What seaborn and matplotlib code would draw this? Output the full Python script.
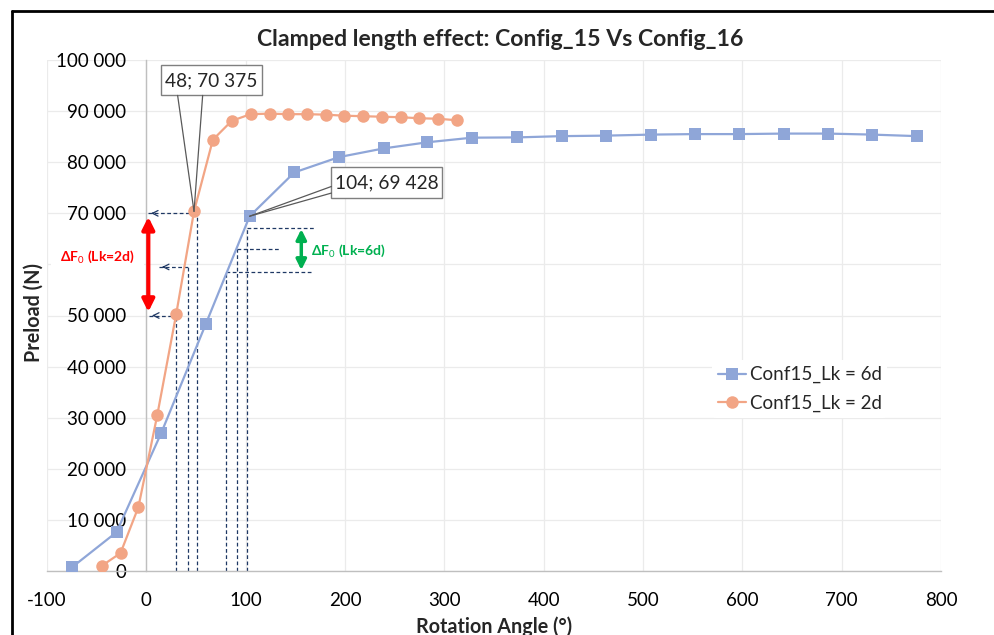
import numpy as np
import pandas as pd
import matplotlib
matplotlib.use("Agg")
import matplotlib.pyplot as plt
import seaborn as sns
from matplotlib.ticker import MultipleLocator, FuncFormatter
from matplotlib.lines import Line2D
from matplotlib.patches import Rectangle

# ---------------- data ----------------
series_6d = "Conf15_Lk = 6d"
series_2d = "Conf15_Lk = 2d"
angle_6d = [-75, -30, 15, 60, 104, 149, 194, 239, 283, 328, 373, 418, 463, 508,
            552, 597, 642, 686, 731, 776]
preload_6d = [700, 7600, 27000, 48400, 69428, 78000, 81000, 82700, 83900, 84800,
              84850, 85100, 85200, 85400, 85500, 85500, 85600, 85600, 85400, 85100]
angle_2d = [-45, -26, -8, 11, 30, 48, 67, 86, 105, 124, 143, 162, 181, 199, 218,
            237, 256, 275, 294, 313]
preload_2d = [1000, 3500, 12500, 30500, 50200, 70375, 84400, 88100, 89400, 89500,
              89400, 89400, 89300, 89100, 89000, 88900, 88800, 88600, 88500, 88200]

# labelled points
label_pt_2d = (48, 70375)
label_pt_6d = (104, 69428)

# guide lines (reading aids)
guide_2d_x = [30, 42, 51]
guide_2d_y = [50000, 59500, 70000]
guide_2d_tip = [3, 13, 2]
guide_6d_x = [80.6, 91.6, 101]
guide_6d_y = [58600, 63000, 67200]
guide_6d_end = [167, 133.5, 169.5]

x_ticks = list(range(-100, 801, 100))
y_ticks = list(range(0, 100001, 10000))

title = "Clamped length effect: Config_15 Vs Config_16"
xlabel = "Rotation Angle (°)"
ylabel = "Preload (N)"

# ---------------- style ----------------
sns.set_style("white")
plt.rcParams['font.family'] = ['Lato', 'DejaVu Sans']
plt.rcParams['mathtext.fontset'] = 'custom'
plt.rcParams['mathtext.rm'] = 'Lato'
plt.rcParams['mathtext.bf'] = 'Lato:bold'

blue = "#8FA6D8"
orange = "#F2A585"
navy = "#1F3864"
grid_c = "#EBEBEB"
axis_c = "#BFBFBF"

df = pd.DataFrame({
    "angle": angle_6d + angle_2d,
    "preload": preload_6d + preload_2d,
    "series": [series_6d] * len(angle_6d) + [series_2d] * len(angle_2d),
})

fig = plt.figure(figsize=(9.94, 6.35), dpi=100)
ax = fig.add_axes([47 / 994, 1 - 571 / 635, 894 / 994, 511 / 635])

sns.lineplot(data=df, x="angle", y="preload", hue="series", style="series",
             hue_order=[series_6d, series_2d], style_order=[series_6d, series_2d],
             palette={series_6d: blue, series_2d: orange},
             markers={series_6d: "s", series_2d: "o"}, dashes=False,
             sort=False, estimator=None, linewidth=1.6, markersize=9,
             markeredgewidth=0, ax=ax, zorder=4)

ax.set_xlim(-100, 800)
ax.set_ylim(0, 100000)
ax.set_xticks(x_ticks)
ax.set_yticks(y_ticks)
ax.xaxis.set_minor_locator(MultipleLocator(20))
ax.yaxis.set_major_formatter(FuncFormatter(lambda v, p: f"{v:,.0f}".replace(",", " ")))
ax.xaxis.set_major_formatter(FuncFormatter(lambda v, p: f"{v:.0f}"))

ax.grid(True, which="major", color=grid_c, lw=0.9, zorder=0)
ax.set_axisbelow(True)
for s in ["top", "right"]:
    ax.spines[s].set_visible(False)
ax.spines["left"].set_position(("data", 0))
ax.spines["left"].set_color(axis_c)
ax.spines["bottom"].set_color(axis_c)
ax.spines["left"].set_linewidth(1)
ax.spines["bottom"].set_linewidth(1)

ax.tick_params(axis="y", which="major", direction="out", length=4.5, width=0.8,
               color=axis_c, pad=10, labelsize=13.5, labelcolor="#000000")
ax.tick_params(axis="x", which="major", direction="in", length=5, width=0.8,
               color=axis_c, pad=15, labelsize=13.5, labelcolor="#000000")
ax.tick_params(axis="x", which="minor", direction="in", length=3, width=0.8,
               color=axis_c)

ax.set_xlabel(xlabel, fontsize=14.2, fontweight="bold")
ax.set_ylabel(ylabel, fontsize=14.2, fontweight="bold")
ax.xaxis.set_label_coords(0.5, -0.088)
ax.yaxis.set_label_coords(-0.004, 0.505)

# guides for Lk = 2d
dash = (0, (3, 2))
for gx, gy, tip in zip(guide_2d_x, guide_2d_y, guide_2d_tip):
    ax.plot([gx, gx], [0, gy], color=navy, lw=0.9, ls=dash, zorder=2)
    ax.plot([tip, gx], [gy, gy], color=navy, lw=0.9, ls=dash, zorder=2)
    ax.annotate("", xy=(tip, gy), xytext=(tip + 8, gy),
                arrowprops=dict(arrowstyle="->", color=navy, lw=0.9,
                                mutation_scale=10), zorder=2)
# guides for Lk = 6d
for gx, gy, ge in zip(guide_6d_x, guide_6d_y, guide_6d_end):
    ax.plot([gx, gx], [0, gy], color=navy, lw=0.9, ls=dash, zorder=2)
    ax.plot([gx, ge], [gy, gy], color=navy, lw=0.9, ls=dash, zorder=2)

# delta arrows (the red label's white box covers the tick label behind it)
ax.text(-49, 61500, "ΔF$_0$ (Lk=2d)", color="#FF0000", fontsize=10,
        fontweight="bold", ha="center", va="center", zorder=5.5,
        bbox=dict(boxstyle="square,pad=0.65", fc="white", ec="none"))
ax.annotate("", xy=(2, 69300), xytext=(2, 50700),
            arrowprops=dict(arrowstyle="<|-|>", color="#FF0000", lw=3,
                            mutation_scale=18, shrinkA=0, shrinkB=0), zorder=6)
ax.annotate("", xy=(156, 66900), xytext=(156, 58900),
            arrowprops=dict(arrowstyle="<|-|>", color="#00B050", lw=2.5,
                            mutation_scale=15, shrinkA=0, shrinkB=0), zorder=5)
ax.text(166, 62700, "ΔF$_0$ (Lk=6d)", color="#00B050", fontsize=10,
        fontweight="bold", ha="left", va="center")

# callouts
def fmt_pt(p):
    return f"{p[0]}; {p[1]:,}".replace(",", " ")

box_ec = "#7F7F7F"
wedge_c = "#595959"
# callout 1
bx0, bx1, by0, by1 = 14.4, 116.4, 93070, 98940
ax.add_patch(Rectangle((bx0, by0), bx1 - bx0, by1 - by0, fc="white", ec=box_ec,
                       lw=1.0, zorder=6))
ax.text((bx0 + bx1) / 2, (by0 + by1) / 2, fmt_pt(label_pt_2d), fontsize=13.8,
        ha="center", va="center", zorder=7)
for wx in [31.5, 56.7]:
    ax.plot([wx, label_pt_2d[0]], [by0, label_pt_2d[1]], color=wedge_c, lw=0.9, zorder=6)
# callout 2
cx0, cx1, cy0, cy1 = 186.3, 297.9, 72980, 78970
ax.add_patch(Rectangle((cx0, cy0), cx1 - cx0, cy1 - cy0, fc="white", ec=box_ec,
                       lw=1.0, zorder=6))
ax.text((cx0 + cx1) / 2, (cy0 + cy1) / 2, fmt_pt(label_pt_6d), fontsize=13.8,
        ha="center", va="center", zorder=7)
for wy in [75250, 73960]:
    ax.plot([cx0, label_pt_6d[0]], [wy, label_pt_6d[1]], color=wedge_c, lw=0.9, zorder=6)

# legend
handles, labels = ax.get_legend_handles_labels()
leg = ax.legend(handles, labels, loc="center left",
                bbox_to_anchor=((712 - 47) / 894, (571 - 389) / 511),
                frameon=True, fontsize=13.5, handlelength=1.5, handletextpad=0.2,
                borderpad=0.3, labelspacing=0.6, borderaxespad=0)
leg.get_frame().set_facecolor("white")
leg.get_frame().set_edgecolor("none")
leg.get_frame().set_alpha(1)
leg.set_zorder(8)

fig.text(500 / 994, 1 - 39 / 635, title, fontsize=16.6, fontweight="bold",
         ha="center", va="center")

# outer frame
fig.add_artist(Line2D([12 / 994, 1.0], [1 - 11 / 635, 1 - 11 / 635],
                      transform=fig.transFigure, color="black", lw=2))
fig.add_artist(Line2D([12 / 994, 12 / 994], [1 - 11 / 635, 0],
                      transform=fig.transFigure, color="black", lw=2))

fig.savefig("out.png", dpi=100)
